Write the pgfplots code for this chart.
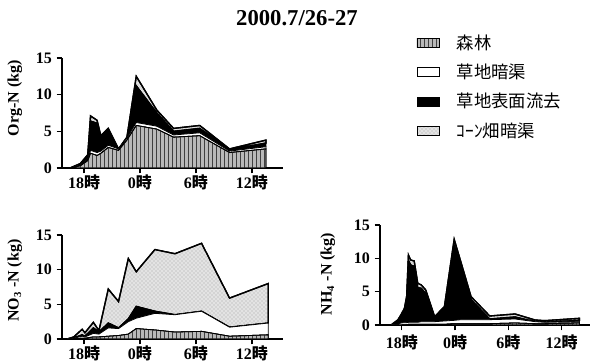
\documentclass[border=0pt]{standalone}
\usepackage{pgfplots}
\pgfplotsset{compat=1.18}
\usepackage{pgfplotstable}
\usetikzlibrary{patterns}
\usepackage{fontspec}
\setmainfont{Liberation Serif}
\newfontfamily\jp{Noto Sans CJK JP}

% Org-N: time (h, 18=18時, 24=0時), forest, grass drain, grass surface, corn drain
\pgfplotstableread{
t f g b c
16.5 0 0 0 0
17.6 0.3 0.1 0.1 0.1
18.4 1.0 0.2 0.4 0.2
18.7 2.0 0.4 4.0 0.7
19.4 1.7 0.4 4.0 0.4
19.8 2.0 0.3 1.8 0.3
20.6 2.8 0.3 2.0 0.3
21.7 2.4 0.2 0.0 0.0
22.6 3.8 0.3 0.0 0.1
23.6 5.8 0.4 5.0 1.3
25.8 5.3 0.4 1.8 0.4
27.6 4.2 0.3 0.5 0.4
30.4 4.4 0.4 0.6 0.4
33.6 2.1 0.2 0.2 0.1
37.5 2.6 0.3 0.5 0.4
}\orgN

\pgfplotstableread{
t f g b c
16.2 0 0 0 0
16.9 0.05 0.05 0.05 0.15
17.8 0.1 0.3 0.2 0.8
18.1 0.1 0.2 0.1 0.5
19.0 0.3 0.5 0.8 0.8
19.6 0.3 0.4 0.3 0.2
20.6 0.4 1.2 0.7 4.9
21.7 0.5 1.0 0.1 3.8
22.75 0.7 1.8 0.4 8.7
23.6 1.5 1.5 1.7 5.0
25.6 1.3 2.4 0.3 8.9
27.75 1.0 2.5 0.0 8.8
30.6 1.1 2.9 0.0 9.8
33.6 0.4 1.3 0.0 4.2
37.75 0.6 1.7 0.0 5.7
}\noN

\pgfplotstableread{
t f g b c
16.8 0 0 0 0
17.55 0 0.1 0.4 0.25
17.9 0 0.3 0.9 0.3
18.3 0.05 0.3 1.8 0.35
18.55 0.05 0.3 3.5 0.45
18.75 0.1 0.3 9.3 0.8
19.0 0.1 0.3 8.6 0.75
19.4 0.1 0.3 8.4 0.8
19.8 0.1 0.3 5.2 0.65
20.2 0.1 0.4 5.0 0.5
20.7 0.1 0.4 4.2 0.55
21.7 0.1 0.4 0.5 0.25
22.8 0.1 0.5 1.9 0.25
23.9 0.2 0.5 11.2 0.95
24.7 0.2 0.6 7.7 0.75
25.8 0.2 0.6 3.0 0.45
27.9 0.2 0.6 0.1 0.45
30.75 0.3 0.6 0.3 0.45
33.0 0.2 0.3 0.0 0.25
34.1 0.2 0.2 0.0 0.25
38.0 0.3 0.2 0.2 0.3
}\nhN

\pgfplotsset{
 myax/.style={
  scale only axis, axis lines*=left,
  axis line style={line width=1.3pt},
  ymin=0, ymax=15, ytick={0,5,10,15},
  xtick={18,24,30,36},
  xticklabels={18{\jp 時},0{\jp 時},6{\jp 時},12{\jp 時}},
  tick align=outside, major tick length=4pt,
  tick style={line width=1pt, black},
  ticklabel style={font=\fontsize{12}{12}\selectfont\bfseries},
  /pgf/number format/assume math mode=true,
  label style={font=\fontsize{12}{14}\selectfont\bfseries},
  stack plots=y,
 },
 forest/.style={fill=gray!55, postaction={pattern=vertical lines, pattern color=black!75}, draw=black, line width=0.6pt},
 gdrain/.style={fill=white, draw=black, line width=0.6pt},
 gsurf/.style={fill=black, draw=black, line width=0.6pt},
 corn/.style={fill=gray!22, postaction={pattern=crosshatch dots, pattern color=gray!70}, draw=black, line width=1pt},
}

\begin{document}
\begin{tikzpicture}[x=0.75pt,y=0.75pt]
\path[use as bounding box] (0,0) rectangle (593,363);
\node[font=\fontsize{17}{17}\selectfont\bfseries] at (297,345) {2000.7/26-27};

\begin{axis}[myax, at={(46.5pt,146.25pt)}, anchor=south west,
  width=165.75pt, height=82.5pt, xmin=15.64, xmax=39.33,
  xticklabel style={yshift=2.2pt},
  ylabel={Org-N (kg)},
  ylabel style={at={(axis description cs:-0.213,0.636)}, anchor=center},
  legend style={at={(axis description cs:1.585,1.25)}, anchor=north west,
    draw=none, fill=none, font=\jp\fontsize{13}{13}\selectfont,
    row sep=7.5pt, nodes={inner sep=1pt},
    /tikz/every odd column/.style={column sep=12pt}},
  legend cell align=left,
  legend image code/.code={\draw[#1, line width=0.6pt] (0pt,-3.4pt) rectangle (16.5pt,3.4pt);},
 ]
\addplot[forest] table[x=t,y=f]{\orgN} \closedcycle;
\addplot[gdrain] table[x=t,y=g]{\orgN} \closedcycle;
\addplot[gsurf] table[x=t,y=b]{\orgN} \closedcycle;
\addplot[corn] table[x=t,y=c]{\orgN} \closedcycle;
\legend{森林,草地暗渠,草地表面流去,ｺｰﾝ畑暗渠}
\end{axis}

\begin{axis}[myax, at={(46.5pt,18pt)}, anchor=south west,
  width=165.75pt, height=78pt, xmin=15.64, xmax=39.33,
  xticklabel style={yshift=2.5pt},
  ylabel={NO\textsubscript{3} -N (kg)},
  ylabel style={at={(axis description cs:-0.213,0.56)}, anchor=center},
 ]
\addplot[forest] table[x=t,y=f]{\noN} \closedcycle;
\addplot[gdrain] table[x=t,y=g]{\noN} \closedcycle;
\addplot[gsurf] table[x=t,y=b]{\noN} \closedcycle;
\addplot[corn] table[x=t,y=c]{\noN} \closedcycle;
\end{axis}

\begin{axis}[myax, at={(285pt,28.5pt)}, anchor=south west,
  width=157.5pt, height=75pt, xmin=15.55, xmax=39.19,
  ylabel={NH\textsubscript{4} -N (kg)},
  ylabel style={at={(axis description cs:-0.248,0.51)}, anchor=center},
 ]
\addplot[forest] table[x=t,y=f]{\nhN} \closedcycle;
\addplot[gdrain] table[x=t,y=g]{\nhN} \closedcycle;
\addplot[gsurf] table[x=t,y=b]{\nhN} \closedcycle;
\addplot[corn] table[x=t,y=c]{\nhN} \closedcycle;
\end{axis}
\end{tikzpicture}
\end{document}
